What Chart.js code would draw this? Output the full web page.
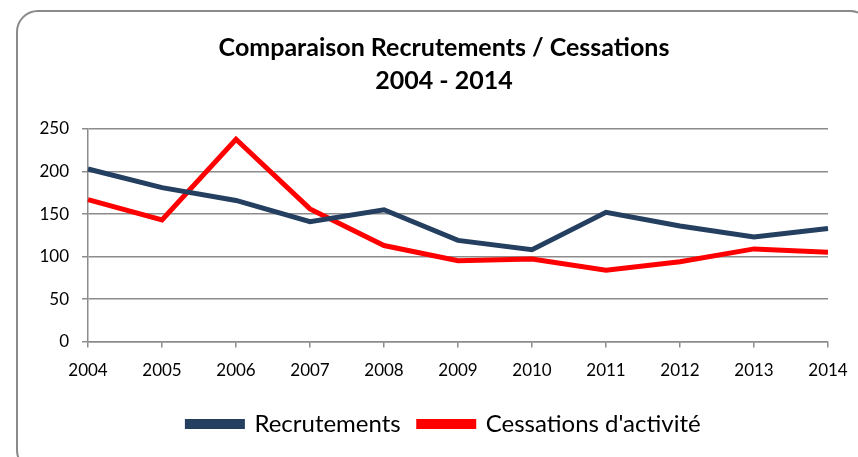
<!DOCTYPE html>
<html>
<head>
<meta charset="utf-8">
<script src="https://cdn.jsdelivr.net/npm/chart.js@4.4.1/dist/chart.umd.min.js"></script>
<style>
  html, body { margin: 0; padding: 0; background: #fff; overflow: hidden; }
  body { width: 858px; height: 457px; position: relative; }
  .cadre {
    position: absolute; left: 16px; top: 10px;
    width: 856px; height: 462px;
    border: 2px solid #8a8a8a; border-radius: 22px;
    box-sizing: border-box;
  }
  .cadre canvas { position: absolute; left: 0; top: 0; }
</style>
</head>
<body>
<div class="cadre"><canvas id="graphe" width="852" height="458"></canvas></div>
<script>
// ── Données ────────────────────────────────────────────────────────────────
const annees       = ['2004', '2005', '2006', '2007', '2008', '2009', '2010', '2011', '2012', '2013', '2014'];
const recrutements = [203, 181, 166, 141, 155, 119, 108, 152, 136, 123, 133];
const cessations   = [167, 143, 238, 156, 113, 95, 97, 84, 94, 109, 105];
const ticksY       = [0, 50, 100, 150, 200, 250];

const police = "Lato, 'Open Sans', sans-serif";
const gris   = '#8c8c8c';

new Chart(document.getElementById('graphe'), {
  type: 'line',
  data: {
    labels: annees,
    datasets: [
      {
        label: 'Recrutements',
        data: recrutements,
        borderColor: '#243f60',
        backgroundColor: '#243f60',
        borderWidth: 5,
        pointRadius: 0,
        tension: 0,
      },
      {
        label: "Cessations d'activité",
        data: cessations,
        borderColor: '#ff0000',
        backgroundColor: '#ff0000',
        borderWidth: 5,
        pointRadius: 0,
        tension: 0,
      },
    ],
  },
  options: {
    responsive: false,
    animation: false,
    layout: { padding: { left: 0, right: 0, top: 0, bottom: 24 } },
    plugins: {
      title: {
        display: true,
        text: ['Comparaison Recrutements / Cessations', '2004 - 2014'],
        color: '#000',
        font: { family: police, size: 25, weight: 'bold', lineHeight: 1.32 },
        padding: { top: 19, bottom: 32 },
      },
      legend: {
        position: 'bottom',
        labels: {
          color: '#000',
          font: { family: police, size: 24 },
          boxWidth: 55,
          boxHeight: 5,
          padding: 18,
        },
      },
      tooltip: { enabled: false },
    },
    scales: {
      x: {
        offset: false,
        grid: { display: true, drawOnChartArea: false, color: gris, tickLength: 6, lineWidth: 1.5 },
        border: { color: gris, width: 1.5 },
        ticks: { color: '#000', font: { family: police, size: 17 }, maxRotation: 0, padding: 13 },
      },
      y: {
        min: 0,
        max: 250,
        afterBuildTicks: axe => { axe.ticks = ticksY.map(v => ({ value: v })); },
        afterFit: axe => { axe.width = 70; },
        grid: { color: gris, tickLength: 6, lineWidth: 1.5 },
        border: { color: gris, width: 1.5 },
        ticks: { color: '#000', font: { family: police, size: 17 }, padding: 13 },
      },
      // axe fantôme à droite : réserve la marge sans décaler le titre
      marge: {
        position: 'right',
        display: true,
        afterFit: axe => { axe.width = 42; },
        grid: { display: false },
        border: { display: false },
        ticks: { display: false },
      },
    },
  },
});
</script>
</body>
</html>
